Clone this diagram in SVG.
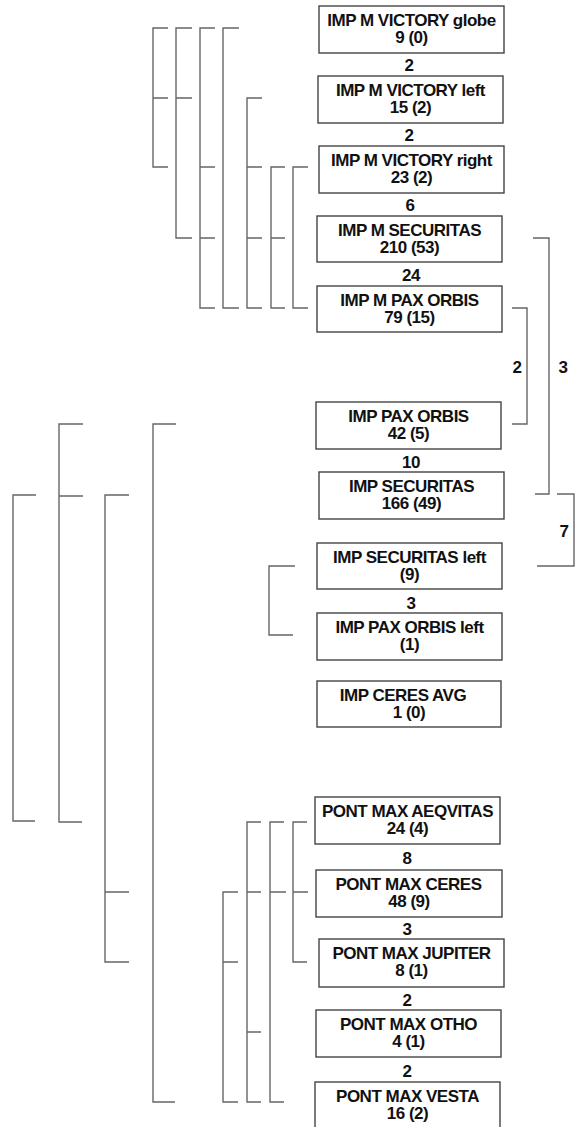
<svg xmlns="http://www.w3.org/2000/svg" width="578" height="1127" viewBox="0 0 578 1127">
<style>
.box{fill:#fff;stroke:#444;stroke-width:1.4}
.t{font-family:"Liberation Sans",Arial,sans-serif;font-weight:bold;font-size:17px;fill:#111;text-anchor:middle;letter-spacing:-0.5px}
.br{fill:none;stroke:#666;stroke-width:1.4}
</style>
<rect width="578" height="1127" fill="#fff"/>
<g id="connectors">
<path class="br" d="M168,28H153V167H168M153,98H168"/>
<path class="br" d="M192,28H176V238H192M176,98H192"/>
<path class="br" d="M215,28H200V308H215M200,167H215M200,238H215"/>
<path class="br" d="M239,28H223V308H239"/>
<path class="br" d="M262,98H247V308H262M247,167H262M247,238H262"/>
<path class="br" d="M285,167H271V308H285M271,238H285"/>
<path class="br" d="M308,167H293V308H308"/>
<path class="br" d="M512,308H527V424H512"/>
<path class="br" d="M533,238H549V494H535"/>
<path class="br" d="M557,494H574V566H537"/>
<path class="br" d="M36,495H13V821H35"/>
<path class="br" d="M83,424H59V822H82M59,496H83"/>
<path class="br" d="M129,495H105V962H129M105,892H129"/>
<path class="br" d="M176,424H153V1102H175"/>
<path class="br" d="M295,566H269V635H293"/>
<path class="br" d="M238,892H223V1102H238M223,962H238"/>
<path class="br" d="M261,822H247V1102H261M247,892H261M247,1032H261"/>
<path class="br" d="M284,822H270V1102H284M270,892H286"/>
<path class="br" d="M307,822H293V962H307M293,892H308"/>
<text class="t" x="517" y="373">2</text>
<text class="t" x="563" y="373">3</text>
<text class="t" x="564" y="537">7</text>
</g>
<g id="n1"><rect class="box" x="319" y="6" width="185" height="47"/><text class="t" x="411.5" y="26">IMP M VICTORY globe</text><text class="t" x="411.5" y="43">9 (0)</text></g>
<text class="t" x="409" y="71">2</text>
<g id="n2"><rect class="box" x="318" y="76" width="185" height="47"/><text class="t" x="410.5" y="96">IMP M VICTORY left</text><text class="t" x="410.5" y="113">15 (2)</text></g>
<text class="t" x="409" y="141">2</text>
<g id="n3"><rect class="box" x="319" y="146" width="185" height="47"/><text class="t" x="411.5" y="166">IMP M VICTORY right</text><text class="t" x="411.5" y="183">23 (2)</text></g>
<text class="t" x="410" y="211">6</text>
<g id="n4"><rect class="box" x="317" y="216" width="185" height="46"/><text class="t" x="409.5" y="236">IMP M SECURITAS</text><text class="t" x="409.5" y="253">210 (53)</text></g>
<text class="t" x="411" y="281">24</text>
<g id="n5"><rect class="box" x="317" y="286" width="185" height="46"/><text class="t" x="409.5" y="306">IMP M PAX ORBIS</text><text class="t" x="409.5" y="323">79 (15)</text></g>
<g id="n6"><rect class="box" x="316" y="402" width="185" height="47"/><text class="t" x="408.5" y="422">IMP PAX ORBIS</text><text class="t" x="408.5" y="439">42 (5)</text></g>
<text class="t" x="411" y="468">10</text>
<g id="n7"><rect class="box" x="319" y="472" width="185" height="47"/><text class="t" x="411.5" y="492">IMP SECURITAS</text><text class="t" x="411.5" y="509">166 (49)</text></g>
<g id="n8"><rect class="box" x="317" y="543" width="185" height="46"/><text class="t" x="409.5" y="563">IMP SECURITAS left</text><text class="t" x="409.5" y="580">(9)</text></g>
<text class="t" x="411" y="609">3</text>
<g id="n9"><rect class="box" x="317" y="613" width="185" height="47"/><text class="t" x="409.5" y="633">IMP PAX ORBIS left</text><text class="t" x="409.5" y="650">(1)</text></g>
<g id="n10"><rect class="box" x="317" y="681" width="184" height="46"/><text class="t" x="403" y="701">IMP CERES AVG</text><text class="t" x="409" y="718">1 (0)</text></g>
<g id="n11"><rect class="box" x="315" y="797" width="185" height="47"/><text class="t" x="407.5" y="817">PONT MAX AEQVITAS</text><text class="t" x="407.5" y="834">24 (4)</text></g>
<text class="t" x="407" y="864">8</text>
<g id="n12"><rect class="box" x="316" y="870" width="186" height="47"/><text class="t" x="408.5" y="890">PONT MAX CERES</text><text class="t" x="409" y="907">48 (9)</text></g>
<text class="t" x="407" y="935">3</text>
<g id="n13"><rect class="box" x="319" y="939" width="185" height="48"/><text class="t" x="411.5" y="959">PONT MAX JUPITER</text><text class="t" x="411.5" y="976">8 (1)</text></g>
<text class="t" x="407" y="1006">2</text>
<g id="n14"><rect class="box" x="316" y="1010" width="185" height="47"/><text class="t" x="408.5" y="1030">PONT MAX OTHO</text><text class="t" x="408.5" y="1047">4 (1)</text></g>
<text class="t" x="407" y="1077">2</text>
<g id="n15"><rect class="box" x="315" y="1082" width="185" height="50"/><text class="t" x="407.5" y="1102">PONT MAX VESTA</text><text class="t" x="407.5" y="1119">16 (2)</text></g>
</svg>
